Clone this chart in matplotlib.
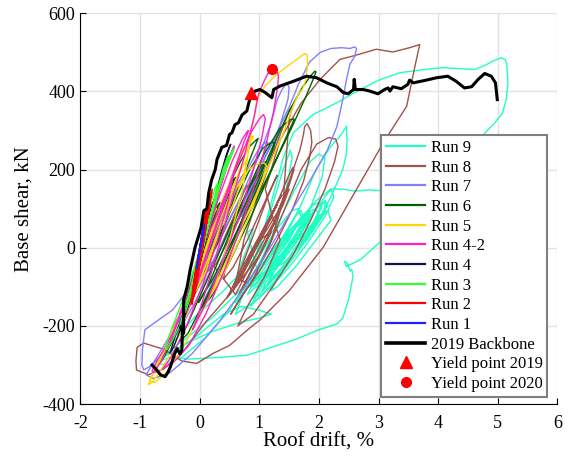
import matplotlib
matplotlib.use("Agg")
import matplotlib.pyplot as plt

plt.rcParams['font.family'] = ['Liberation Serif', 'DejaVu Serif']
plt.rcParams['axes.unicode_minus'] = False

# (roof drift %, base shear kN) pairs, in loading order
run9 = [(1.20, -60), (1.50, 10), (1.80, 70), (2.00, 110), (2.05, 105), (1.90, 60), (1.60, -10), (1.30, -70),
        (1.00, -120), (0.90, -130), (1.00, -100), (1.30, -40), (1.60, 30), (1.85, 80), (1.90, 90), (1.70, 40),
        (1.40, -20), (1.10, -80), (0.95, -110), (1.10, -70), (1.40, -10), (1.70, 50), (1.95, 100), (2.10, 120),
        (2.15, 110), (1.95, 60), (1.65, 0), (1.35, -60), (1.15, -90), (1.25, -60), (1.50, 0), (1.75, 50),
        (1.80, 60), (1.55, 0), (1.25, -60), (0.95, -100), (0.80, -120), (0.90, -90), (1.20, -30), (1.50, 30),
        (1.75, 80), (1.85, 90), (1.65, 40), (1.35, -20), (1.05, -70), (0.85, -90), (1.00, -50), (1.30, 10),
        (1.60, 60), (1.90, 110), (2.00, 115), (1.80, 60), (1.50, 0), (1.20, -50), (1.00, -80),
        (0.80, 40), (0.90, 50), (0.85, 20), (0.70, -40), (0.60, -80),
        (0.75, -70), (1.00, -20), (1.30, 50), (1.55, 95), (1.65, 100), (1.70, 80), (1.50, 20), (1.20, -40),
        (0.95, -90), (0.85, -100), (0.90, -80), (1.20, -20), (1.50, 40), (1.80, 90), (1.95, 100), (2.00, 80),
        (1.80, 30), (1.50, -30), (1.20, -80), (1.05, -110), (1.10, -90), (1.40, -30), (1.70, 30), (2.00, 80),
        (2.15, 95), (2.20, 70), (1.90, 10), (1.60, -50), (1.30, -100), (1.20, -110), (1.35, -60), (1.60, 0),
        (1.85, 50), (2.05, 110), (2.10, 120), (2.10, 90), (1.80, 20), (1.40, -40), (1.00, -70), (0.70, -120),
        (0.60, -140), (0.75, -110), (1.10, -40), (1.40, 30), (1.60, 80), (1.70, 95), (1.75, 70), (1.50, 0),
        (1.20, -60), (0.90, -100), (0.80, -90), (1.00, -40), (1.25, 40), (1.45, 150), (1.55, 230), (1.52, 250),
        (1.40, 200), (1.20, 100), (1.00, 0), (0.80, -80), (0.50, -160), (0.10, -230), (-0.30, -280),
        (-0.60, -300), (-0.70, -295), (-0.50, -250), (-0.10, -180), (0.40, -110), (0.90, -30), (1.30, 60),
        (1.60, 150), (1.85, 220), (2.00, 240), (2.10, 230), (2.05, 180), (1.85, 100), (1.55, 20), (1.25, -50),
        (1.00, -100), (1.10, -70), (1.40, 20), (1.70, 110), (1.95, 200), (2.20, 260), (2.35, 285), (2.44, 305),
        (2.46, 311), (2.47, 280), (2.46, 240), (2.40, 200), (2.20, 130), (1.95, 60), (1.65, -10), (1.35, -70),
        (1.05, -120), (0.85, -150), (1.00, -110), (1.30, -20), (1.65, 60), (1.95, 120), (2.20, 150), (2.25, 130),
        (2.10, 80), (1.80, 10), (1.50, -50), (1.20, -100), (0.90, -140), (0.60, -170), (0.80, -90), (1.10, 60),
        (1.40, 230), (1.57, 294), (1.90, 341), (2.30, 371), (2.69, 405), (3.02, 430), (3.36, 448), (3.70, 455),
        (4.08, 461), (4.40, 458), (4.61, 456), (4.80, 468), (4.92, 478), (5.06, 486), (5.12, 482), (5.15, 470),
        (5.17, 422), (5.14, 380), (5.08, 345), (4.95, 320), (4.81, 298), (4.40, 230), (3.80, 130), (3.13, 29),
        (2.70, -30), (2.46, -48), (2.43, -35), (2.48, -40), (2.52, -60), (2.55, -55), (2.57, -74), (2.50, -130),
        (2.40, -180), (2.30, -195), (2.00, -210), (1.60, -235), (1.20, -255), (0.80, -275), (0.20, -282),
        (-0.20, -285), (-0.50, -280), (-0.70, -292), (-0.60, -280), (-0.30, -250), (0.20, -215), (0.70, -190),
        (1.00, -180), (1.20, -170), (1.00, -160), (0.70, -150), (0.40, -170), (0.00, -220), (-0.40, -265),
        (-0.60, -275), (-0.30, -240), (0.20, -180), (0.60, -120), (1.00, -60), (1.30, 0), (1.60, 50), (1.90, 90),
        (2.20, 150), (2.40, 150), (2.60, 145), (2.85, 148), (3.10, 145), (3.40, 135)]

run8 = [(0.90, -10), (1.10, 50), (1.25, 100), (1.30, 110), (1.20, 80), (1.00, 20), (0.80, -40), (0.60, -100),
        (0.55, -110), (0.65, -90), (0.85, -30), (1.05, 30), (1.20, 80), (1.35, 130), (1.38, 135), (1.25, 100),
        (1.00, 30), (0.75, -40), (0.55, -100), (0.45, -130), (0.55, -110), (0.75, -50), (0.95, 10), (1.15, 70),
        (1.20, 75), (1.05, 40), (0.85, -20), (0.65, -80), (0.70, -70), (0.90, -10), (1.10, 40), (1.30, 90),
        (1.45, 140), (1.50, 150), (1.40, 110), (1.15, 40), (0.90, -30), (0.70, -90), (0.60, -120),
        (0.00, 0), (0.20, 50), (0.40, 100), (0.50, 120), (0.48, 115), (0.36, 70), (0.18, 10), (0.04, -40),
        (0.00, -60), (0.12, -40), (0.34, 20), (0.56, 90), (0.72, 140), (0.80, 160), (0.76, 150), (0.60, 90),
        (0.40, 20), (0.22, -40), (0.14, -60), (0.28, -40), (0.52, 30), (0.78, 110), (0.98, 170), (1.08, 190),
        (1.10, 190), (1.00, 160), (0.80, 90), (0.58, 10), (0.42, -60), (0.40, -80), (0.56, -50), (0.80, 20),
        (1.04, 100), (1.22, 160), (1.30, 185), (1.28, 180), (1.14, 130), (0.92, 40), (0.70, -50), (0.56, -100),
        (0.62, -90), (0.84, -30), (1.10, 50), (1.34, 130), (1.48, 180), (1.56, 205), (1.58, 200), (1.50, 160),
        (1.30, 80), (1.04, -10), (0.80, -80), (0.66, -120), (0.72, -100), (0.96, -30), (1.24, 60), (1.50, 170),
        (1.68, 250), (1.74, 290), (1.76, 310), (1.80, 318), (1.86, 300), (1.88, 270), (1.84, 230), (1.74, 170),
        (1.56, 100), (1.30, 20), (1.00, -60), (0.72, -120), (0.52, -170), (0.60, -150), (0.90, -80), (1.20, 20),
        (1.40, 120), (1.46, 250), (1.50, 330), (1.56, 364), (1.50, 350), (1.30, 270), (1.02, 150), (0.74, 20),
        (0.62, -80), (0.80, -90), (1.10, -20), (1.40, 90), (1.70, 200), (1.96, 265), (2.16, 282), (2.28, 278),
        (2.32, 260), (2.26, 220), (2.10, 150), (1.86, 70), (1.56, -20), (1.22, -100), (0.90, -170), (0.64, -200),
        (0.80, -150), (1.10, -70), (1.35, 20), (1.20, 90), (1.10, 150), (1.35, 277), (1.70, 370), (2.02, 431),
        (2.35, 482), (2.58, 491), (2.96, 508), (3.24, 501), (3.52, 512), (3.69, 520), (3.66, 500), (3.61, 465),
        (3.47, 362), (3.08, 269), (2.82, 200), (2.07, 1), (1.50, -110), (1.01, -185), (0.85, -204),
        (0.50, -250), (0.23, -270), (-0.05, -296), (-0.30, -290), (-0.60, -260), (-0.94, -244), (-1.05, -255),
        (-1.07, -290), (-1.06, -313), (-0.86, -325), (-0.60, -310), (-0.30, -270), (0.10, -190), (0.50, -120),
        (0.80, -60), (1.00, -20), (1.20, 40), (1.00, 20), (0.80, -30)]

run7 = [(0.00, 0), (0.16, 50), (0.30, 90), (0.40, 110), (0.42, 105), (0.34, 70), (0.18, 10), (0.00, -50),
        (-0.14, -100), (-0.22, -125), (-0.14, -110), (0.06, -40), (0.30, 50), (0.52, 130), (0.68, 175),
        (0.74, 190), (0.70, 180), (0.52, 120), (0.28, 30), (0.02, -60), (-0.22, -140), (-0.40, -190),
        (-0.46, -205), (-0.36, -180), (-0.12, -100), (0.18, 0), (0.48, 100), (0.76, 190), (0.98, 250),
        (1.10, 270), (1.14, 270), (1.08, 240), (0.88, 170), (0.58, 70), (0.24, -40), (-0.08, -140),
        (-0.38, -220), (-0.62, -270), (-0.80, -300), (-0.94, -313), (-0.97, -300), (-0.96, -260), (-0.92, -210),
        (-0.74, -190), (-0.46, -160), (-0.10, -90), (0.28, 10), (0.66, 120), (0.98, 230), (1.20, 320),
        (1.30, 379), (1.38, 405), (1.46, 422), (1.50, 410), (1.48, 380), (1.36, 320), (1.10, 200), (0.76, 80),
        (0.40, -40), (0.06, -140), (0.30, -60), (0.66, 80), (1.00, 200), (1.28, 290), (1.50, 360), (1.66, 420),
        (1.84, 475), (2.02, 500), (2.20, 510), (2.38, 512), (2.52, 510), (2.60, 514), (2.63, 510), (2.60, 490),
        (2.52, 470), (2.46, 430), (2.40, 380), (2.30, 310), (2.14, 250), (1.88, 180), (1.56, 100), (1.18, 0),
        (0.76, -100), (0.32, -190), (-0.12, -270), (-0.50, -320), (-0.78, -335), (-0.90, -325), (-0.72, -280),
        (-0.36, -190), (0.06, -80), (0.48, 40), (0.84, 150), (1.12, 240), (1.30, 290), (1.34, 300), (1.20, 240),
        (0.94, 150), (0.70, 80)]

run6 = [(0.00, 0), (0.14, 60), (0.26, 100), (0.34, 115), (0.32, 110), (0.22, 70), (0.08, 0), (-0.06, -60),
        (-0.14, -95), (-0.08, -80), (0.08, -10), (0.26, 70), (0.44, 140), (0.56, 175), (0.60, 180), (0.54, 160),
        (0.38, 90), (0.18, 0), (-0.02, -80), (-0.18, -140), (-0.26, -160), (-0.20, -130), (-0.02, -40),
        (0.22, 60), (0.46, 150), (0.68, 220), (0.84, 260), (0.94, 275), (0.98, 280), (0.94, 265), (0.80, 210),
        (0.56, 120), (0.28, 10), (0.00, -90), (-0.24, -170), (-0.44, -230), (-0.60, -275), (-0.70, -300),
        (-0.72, -305), (-0.60, -280), (-0.36, -210), (-0.06, -110), (0.26, 0), (0.56, 110), (0.84, 200),
        (1.06, 255), (1.20, 270), (1.26, 268), (1.24, 255), (1.10, 200), (0.84, 110), (0.52, 10), (0.22, -80),
        (-0.02, -140), (0.16, -90), (0.46, 20), (0.78, 140), (1.08, 240), (1.34, 305), (1.52, 328), (1.58, 330),
        (1.56, 320), (1.44, 280), (1.18, 190), (0.86, 80), (0.52, -30), (0.22, -120), (0.00, -160), (0.20, -110),
        (0.52, 0), (0.86, 130), (1.20, 250), (1.50, 350), (1.72, 410), (1.86, 440), (1.93, 452), (1.95, 450),
        (1.90, 430), (1.76, 380), (1.52, 300), (1.20, 200), (0.84, 90), (0.46, -20), (0.10, -130), (-0.20, -220),
        (-0.34, -240), (-0.16, -180), (0.16, -70), (0.50, 50), (0.82, 150), (1.04, 210), (1.10, 220),
        (0.94, 170), (0.70, 90), (0.50, 30)]

run5 = [(0.00, 0), (0.12, 50), (0.22, 85), (0.28, 100), (0.24, 90), (0.12, 40), (0.00, -20), (-0.10, -70),
        (-0.14, -90), (-0.06, -70), (0.08, -10), (0.24, 60), (0.38, 120), (0.46, 150), (0.48, 155), (0.40, 130),
        (0.24, 60), (0.06, -20), (-0.10, -90), (-0.22, -140), (-0.24, -150), (-0.12, -110), (0.06, -30),
        (0.26, 60), (0.46, 150), (0.62, 220), (0.72, 250), (0.74, 255), (0.68, 240), (0.52, 170), (0.30, 70),
        (0.08, -40), (-0.14, -140), (-0.34, -220), (-0.52, -280), (-0.68, -320), (-0.80, -345), (-0.86, -350),
        (-0.84, -340), (-0.70, -300), (-0.46, -220), (-0.18, -120), (0.10, -10), (0.38, 110), (0.62, 210),
        (0.80, 270), (0.88, 285), (0.90, 285), (0.82, 260), (0.62, 180), (0.38, 70), (0.14, -30), (-0.06, -110),
        (0.10, -60), (0.36, 60), (0.60, 150), (0.82, 200), (0.98, 215), (1.08, 217), (1.12, 210), (1.06, 180),
        (0.90, 110), (0.64, 10), (0.36, -80), (0.14, -130), (0.24, -100), (0.50, 20), (0.72, 150), (0.86, 290),
        (0.96, 380), (1.10, 415), (1.30, 445), (1.52, 470), (1.68, 488), (1.76, 497), (1.80, 494), (1.81, 470),
        (1.78, 430), (1.72, 405), (1.66, 395), (1.56, 360), (1.42, 300), (1.22, 230), (0.96, 140), (0.66, 40),
        (0.34, -70), (0.02, -170), (-0.30, -260), (-0.56, -320), (-0.76, -345), (-0.84, -340), (-0.70, -290),
        (-0.42, -200), (-0.12, -100), (0.18, 10), (0.44, 110), (0.66, 190), (0.80, 230), (0.74, 190),
        (0.56, 110), (0.40, 60)]

run42 = [(0.00, 0), (0.10, 60), (0.18, 100), (0.22, 115), (0.18, 100), (0.08, 40), (-0.04, -30), (-0.14, -85),
         (-0.18, -105), (-0.10, -80), (0.04, -10), (0.18, 70), (0.30, 140), (0.38, 175), (0.40, 180),
         (0.34, 160), (0.20, 90), (0.04, 0), (-0.12, -80), (-0.26, -140), (-0.34, -170), (-0.30, -165),
         (-0.16, -100), (0.02, -10), (0.20, 90), (0.38, 180), (0.52, 240), (0.58, 260), (0.56, 255),
         (0.46, 210), (0.28, 120), (0.08, 20), (-0.12, -80), (-0.30, -160), (-0.46, -220), (-0.60, -260),
         (-0.72, -290), (-0.80, -315), (-0.78, -320), (-0.64, -290), (-0.44, -220), (-0.20, -120), (0.06, 0),
         (0.30, 120), (0.54, 220), (0.72, 280), (0.80, 298), (0.82, 300), (0.74, 270), (0.56, 190), (0.34, 90),
         (0.10, -20), (-0.12, -120), (-0.30, -190), (-0.14, -140), (0.10, -30), (0.36, 90), (0.60, 200),
         (0.84, 290), (1.00, 330), (1.07, 341), (1.10, 330), (1.04, 280), (0.90, 200), (0.66, 80), (0.40, -30),
         (0.14, -130), (-0.12, -210), (-0.04, -180), (0.20, -60), (0.48, 90), (0.74, 230), (0.92, 340),
         (0.98, 390), (1.06, 420), (1.14, 445), (1.21, 457), (1.28, 455), (1.32, 440), (1.31, 415), (1.29, 397),
         (1.24, 350), (1.12, 270), (0.92, 160), (0.66, 40), (0.38, -70), (0.10, -170), (-0.18, -250),
         (-0.42, -290), (-0.62, -310), (-0.48, -280), (-0.22, -200), (0.06, -90), (0.30, 20), (0.48, 120),
         (0.54, 170), (0.42, 130), (0.22, 60), (0.08, 10)]

run4 = [(0.00, 0), (0.06, 50), (0.12, 90), (0.15, 105), (0.12, 85), (0.04, 30), (-0.04, -30), (-0.10, -80),
        (-0.12, -95), (-0.06, -70), (0.04, -10), (0.14, 60), (0.22, 110), (0.26, 130), (0.22, 115), (0.12, 60),
        (0.00, -10), (-0.12, -80), (-0.22, -140), (-0.26, -165), (-0.20, -150), (-0.06, -80), (0.08, 10),
        (0.22, 100), (0.34, 170), (0.40, 200), (0.38, 190), (0.28, 130), (0.14, 50), (-0.02, -40),
        (-0.16, -110), (-0.28, -170), (-0.38, -210), (-0.46, -250), (-0.50, -270), (-0.44, -255), (-0.30, -200),
        (-0.14, -120), (0.04, -20), (0.20, 90), (0.34, 180), (0.44, 235), (0.50, 260), (0.52, 265), (0.46, 240),
        (0.34, 170), (0.18, 80), (0.02, -10), (-0.10, -80), (-0.04, -50), (0.08, 20), (0.16, 80), (0.12, 70),
        (0.04, 20)]

run3 = [(0.00, 0), (0.08, 60), (0.14, 100), (0.18, 115), (0.15, 95), (0.08, 40), (0.00, -20), (-0.08, -70),
        (-0.14, -105), (-0.16, -120), (-0.10, -100), (0.00, -40), (0.12, 40), (0.22, 110), (0.28, 150),
        (0.30, 165), (0.25, 150), (0.14, 90), (0.02, 10), (-0.10, -70), (-0.20, -130), (-0.26, -160),
        (-0.24, -165), (-0.12, -110), (0.02, -20), (0.16, 70), (0.30, 150), (0.40, 205), (0.46, 230),
        (0.48, 235), (0.44, 215), (0.32, 150), (0.16, 60), (0.00, -30), (-0.14, -100), (-0.26, -160),
        (-0.34, -200), (-0.45, -235), (-0.55, -260), (-0.58, -255), (-0.50, -220), (-0.35, -160), (-0.18, -90),
        (0.00, -10), (0.18, 80), (0.34, 160), (0.48, 215), (0.56, 245), (0.58, 255), (0.52, 240), (0.38, 180),
        (0.22, 100), (0.06, 20), (-0.08, -50), (-0.02, -30), (0.10, 40), (0.22, 100), (0.28, 125), (0.24, 110),
        (0.12, 60), (0.02, 20)]

run2 = [(0.00, 0), (0.06, 45), (0.10, 80), (0.12, 90), (0.08, 60), (0.02, 10), (-0.04, -40), (-0.08, -75),
        (-0.06, -85), (0.00, -40), (0.07, 20), (0.13, 80), (0.16, 110), (0.14, 115), (0.08, 70), (0.01, 10),
        (-0.06, -50), (-0.11, -100), (-0.12, -115), (-0.07, -90), (0.01, -30), (0.09, 40), (0.15, 100),
        (0.19, 135), (0.20, 140), (0.16, 120), (0.09, 60), (0.02, 0), (-0.05, -60), (-0.10, -110),
        (-0.14, -140), (-0.13, -145), (-0.06, -100), (0.03, -20), (0.11, 60), (0.17, 120), (0.18, 125),
        (0.12, 80), (0.04, 10), (-0.03, -50), (-0.09, -95), (-0.07, -80), (0.00, -30), (0.08, 40), (0.13, 85),
        (0.10, 70), (0.03, 20), (0.02, 10), (0.10, 70), (0.15, 110), (0.12, 100), (0.05, 40), (-0.02, -20),
        (-0.08, -80), (-0.10, -100), (-0.04, -60), (0.04, 0), (0.11, 60), (0.17, 105), (0.18, 120), (0.12, 90),
        (0.05, 30), (-0.03, -40), (-0.11, -110), (-0.12, -125), (-0.05, -80), (0.03, -10), (0.09, 50),
        (0.14, 95), (0.16, 100), (0.10, 50), (0.02, -10), (-0.06, -70), (-0.09, -90), (-0.03, -50), (0.05, 20),
        (0.12, 75), (0.19, 130), (0.21, 150), (0.16, 130), (0.08, 70), (0.00, 0), (-0.07, -60), (-0.13, -120),
        (-0.15, -140), (-0.09, -110), (0.00, -40), (0.07, 30), (0.11, 60), (0.06, 20), (0.01, -10)]

run1 = [(0.00, 0), (0.05, 40), (-0.03, -30), (0.07, 60), (-0.05, -55), (0.04, 25), (-0.02, -20), (0.08, 55),
        (-0.04, -45), (0.03, 15), (0.00, 0)]

backbone = [(-0.80, -300), (-0.72, -313), (-0.66, -325), (-0.58, -330), (-0.53, -318), (-0.49, -304),
            (-0.43, -275), (-0.38, -258), (-0.33, -272), (-0.30, -262), (-0.29, -215), (-0.32, -202),
            (-0.27, -219), (-0.27, -133), (-0.21, -99), (-0.16, -56), (-0.08, 0), (0.02, 50), (0.07, 95),
            (0.12, 100), (0.15, 140), (0.20, 174), (0.26, 200), (0.29, 226), (0.37, 257), (0.45, 262),
            (0.50, 290), (0.54, 294), (0.59, 315), (0.65, 320), (0.71, 340), (0.79, 350), (0.83, 375),
            (0.87, 392), (0.93, 401), (1.01, 405), (1.10, 397), (1.21, 384), (1.24, 405), (1.35, 414),
            (1.57, 426), (1.79, 439), (1.96, 435), (2.13, 422), (2.30, 412), (2.41, 397), (2.49, 394),
            (2.58, 405), (2.59, 431), (2.61, 405), (2.74, 405), (2.85, 401), (2.99, 394), (3.10, 405),
            (3.16, 409), (3.19, 401), (3.24, 412), (3.38, 407), (3.49, 418), (3.52, 429), (3.58, 422),
            (3.80, 429), (3.97, 435), (4.16, 439), (4.30, 426), (4.44, 409), (4.56, 412), (4.67, 431),
            (4.78, 446), (4.89, 439), (4.96, 422), (4.99, 379)]

yield_2019 = (0.86, 395)
yield_2020 = (1.21, 457)

run_labels = ["Run 9", "Run 8", "Run 7", "Run 6", "Run 5", "Run 4-2", "Run 4", "Run 3", "Run 2", "Run 1"]
run_data = [run9, run8, run7, run6, run5, run42, run4, run3, run2, run1]
run_colors = ["#1effc4", "#a0524a", "#8080ff", "#006400", "#ffd700", "#ff22c8", "#14143c", "#33ff33",
              "#ff0000", "#2020ff"]

fig = plt.figure(figsize=(5.68, 4.62), dpi=100)
ax = fig.add_axes([0.1417, 0.1255, 0.8398, 0.8457])

for label, pts, color in zip(run_labels, run_data, run_colors):
    xs, ys = zip(*pts)
    ax.plot(xs, ys, color=color, lw=1.0, label=label)

bx, by = zip(*backbone)
ax.plot(bx, by, color="black", lw=2.2, label="2019 Backbone")
ax.plot(*yield_2019, linestyle="none", marker="^", ms=8, color="red", label="Yield point 2019")
ax.plot(*yield_2020, linestyle="none", marker="o", ms=7, color="red", label="Yield point 2020")

ax.set_xlim(-2, 6)
ax.set_ylim(-400, 600)
ax.set_xticks(range(-2, 7))
ax.set_yticks(range(-400, 601, 200))
ax.grid(True, color="#e3e3e3", lw=1.0)
ax.set_axisbelow(True)
for side in ["top", "right"]:
    ax.spines[side].set_visible(False)
ax.tick_params(direction="in", length=4, labelsize=13, pad=4)
ax.tick_params(axis="x", pad=8)
ax.set_xlabel("Roof drift, %", fontsize=15, labelpad=0)
ax.set_ylabel("Base shear, kN", fontsize=15, labelpad=6)

leg = ax.legend(loc="lower right", bbox_to_anchor=(0.979, 0.018), borderaxespad=0, fontsize=12,
                fancybox=False, framealpha=1, edgecolor="#7f7f7f", handlelength=2.3, labelspacing=0.22,
                handletextpad=0.35, borderpad=0.3)
leg.get_frame().set_linewidth(1.5)
for line in leg.get_lines()[:-3]:
    line.set_linewidth(1.6)
leg.get_lines()[-3].set_linewidth(2.6)

fig.savefig("out.png", dpi=100)
